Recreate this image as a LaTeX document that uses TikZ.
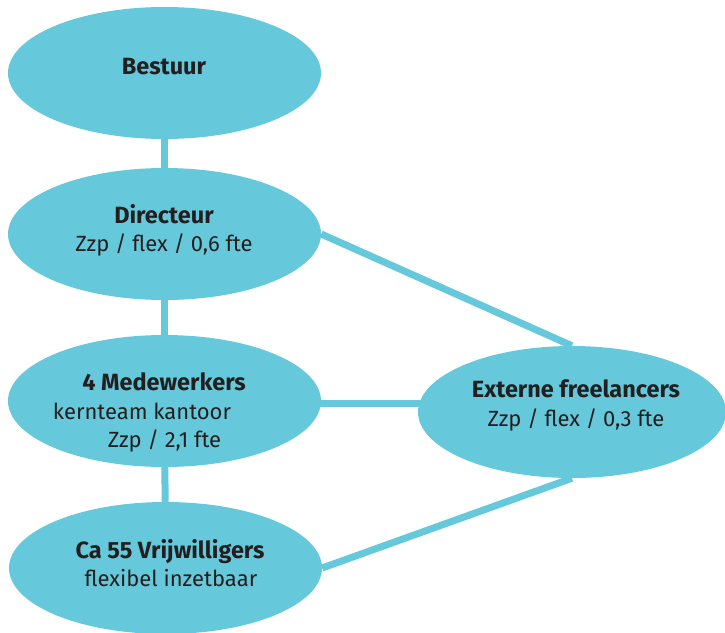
\documentclass[tikz,border=0pt]{standalone}
\usepackage{fontspec}
\setmainfont{Fira Sans}
\usetikzlibrary{shapes.geometric,backgrounds}
\definecolor{blob}{HTML}{66C9DB}
\definecolor{ink}{HTML}{231F20}
\tikzset{
  blobnode/.style={ellipse,fill=blob,draw=none,minimum width=313pt,minimum height=132pt,inner sep=0pt},
  link/.style={draw=blob,line width=7pt},
  title/.style={font=\fontsize{23.5}{26}\selectfont\bfseries,text=ink,inner sep=0pt,anchor=base},
  sub/.style={font=\fontsize{22}{26}\selectfont,text=ink,inner sep=0pt,anchor=base}
}
\begin{document}
\begin{tikzpicture}[x=1pt,y=-1pt]
\useasboundingbox (0,0) rectangle (725,632);
\node[blobnode] (bes) at (164.5,73) {};
\node[blobnode] (dir) at (164.5,234) {};
\node[blobnode] (med) at (164.5,401) {};
\node[blobnode] (vri) at (165.5,568) {};
\node[blobnode,minimum width=308pt] (ext) at (572,412) {};
\coordinate (medR) at (572,403);
\begin{scope}[on background layer]
\draw[link] (bes.center) -- (dir.center);
\draw[link] (dir.center) -- (med.center);
\draw[link] (med.center) -- (vri.center);
\draw[link] (dir.east) -- (ext.north);
\draw[link] (med.center |- medR) -- (medR);
\draw[link] (vri.east) -- (ext.south);
\end{scope}
\node[title] (t1) at (164,74) {Bestuur};
\node[title] (t2) at (164,223) {Directeur};
\node[sub] (s2) at (164,251) {Zzp / flex / 0,6 fte};
\node[title] (t3) at (164,390) {4 Medewerkers};
\node[sub] (s3a) at (142,419) {kernteam kantoor};
\node[sub] (s3b) at (164.5,447) {Zzp / 2,1 fte};
\node[title] (t4) at (170,558) {Ca 55 Vrijwilligers};
\node[sub] (s4) at (171,586) {flexibel inzetbaar};
\node[title] (t5) at (576,397) {Externe freelancers};
\node[sub] (s5) at (576,426) {Zzp / flex / 0,3 fte};
\end{tikzpicture}
\end{document}
